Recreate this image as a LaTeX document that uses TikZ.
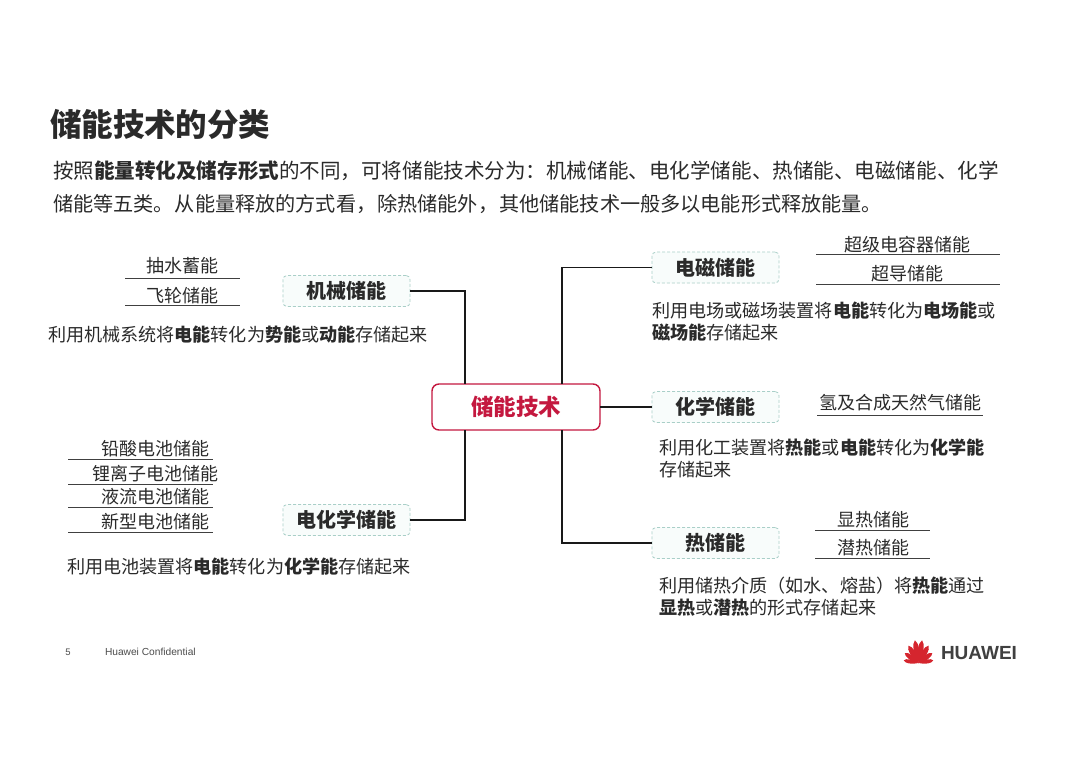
\documentclass[tikz,border=0pt]{standalone}
\usepackage{fontspec}
\setmainfont{Noto Sans CJK SC}
\newfontfamily\latinfont{Liberation Sans}
\usetikzlibrary{calc}
\definecolor{txt}{HTML}{2A2A2A}
\definecolor{redc}{HTML}{C4183F}
\definecolor{tealb}{HTML}{A9CFC8}
\definecolor{tealf}{HTML}{F8FCFB}
\definecolor{petal}{HTML}{D5252E}
\newcommand{\fs}[1]{\fontsize{#1pt}{#1pt}\selectfont}
\newcommand{\bb}[1]{\textbf{#1}}
\tikzset{
  x=1pt,y=-1pt,
  every node/.style={inner sep=0pt,outer sep=0pt,text=txt},
  catbox/.style={draw=tealb,densely dashed,line width=.8pt,fill=tealf,rounded corners=4pt,minimum width=127pt,minimum height=31pt,font=\fs{20}\bfseries},
  centerbox/.style={draw=redc,fill=white,line width=1.4pt,rounded corners=7pt,minimum width=168pt,minimum height=46pt,font=\fs{22.5}\bfseries,text=redc},
  conn/.style={draw=black!90,line width=1.9pt},
  under/.style={draw=black!75,line width=.9pt},
  item/.style={font=\fs{18}},
  para/.style={font=\fs{18.1},align=left,anchor=north west},
}
\begin{document}
\begin{tikzpicture}
\useasboundingbox (0,0) rectangle (1080,764);
\fill[white] (0,0) rectangle (1080,764);
\node[anchor=west,font=\fs{31.5}\bfseries] (title) at (50,124) {储能技术的分类};
\node[anchor=north west,font=\fs{20.56},align=left] (intro) at (53,161) {按照\bb{能量转化及储存形式}的不同，可将储能技术分为：机械储能、电化学储能、热储能、电磁储能、化学\\[12pt]{\fs{20.15}储能等五类。\hspace{1pt}从能量释放的方式看，\hspace{1pt}除热储能外，\hspace{1pt}其他储能技术一般多以电能形式释放能量。}};

\node[centerbox] (center) at (516,407) {储能技术};
\node[catbox] (mech) at (346.5,291) {机械储能};
\node[catbox] (echem) at (346.5,520) {电化学储能};
\node[catbox] (em) at (715.5,267.5) {电磁储能};
\node[catbox] (chem) at (715.5,407) {化学储能};
\node[catbox] (heat) at (715.5,543) {热储能};

\draw[conn] (mech.east) -| ([xshift=-51pt]center.north);
\draw[conn] (echem.east) -| ([xshift=-51pt]center.south);
\draw[conn] (em.west) -| ([xshift=46pt]center.north);
\draw[conn] (center.east) -- (chem.west);
\draw[conn] (heat.west) -| ([xshift=46pt]center.south);

% left top
\node[item] (a1) at (182,266) {抽水蓄能};
\node[item] (a2) at (182,296) {飞轮储能};
\coordinate (a1l) at (125,278); \coordinate (a1r) at (240,278);
\coordinate (a2l) at (125,305); \coordinate (a2r) at (240,305);
\draw[under] (a1l) -- (a1r); \draw[under] (a2l) -- (a2r);
\node[para,anchor=west] (ap) at (48,335) {利用机械系统将\bb{电能}转化为\bb{势能}或\bb{动能}存储起来};

% left bottom
\node[item] (b1) at (155,449) {铅酸电池储能};
\node[item] (b2) at (155,474) {锂离子电池储能};
\node[item] (b3) at (155,497) {液流电池储能};
\node[item] (b4) at (155,522) {新型电池储能};
\coordinate (b1l) at (68,459); \coordinate (b1r) at (213,459);
\coordinate (b2l) at (68,484); \coordinate (b2r) at (213,484);
\coordinate (b3l) at (68,507); \coordinate (b3r) at (213,507);
\coordinate (b4l) at (68,532); \coordinate (b4r) at (213,532);
\draw[under] (b1l) -- (b1r); \draw[under] (b2l) -- (b2r);
\draw[under] (b3l) -- (b3r); \draw[under] (b4l) -- (b4r);
\node[para,anchor=west] (bp) at (67,567) {利用电池装置将\bb{电能}转化为\bb{化学能}存储起来};

% right top
\node[item] (c1) at (907,245) {超级电容器储能};
\node[item] (c2) at (907,274) {超导储能};
\coordinate (c1l) at (816,254); \coordinate (c1r) at (1000,254);
\coordinate (c2l) at (816,284); \coordinate (c2r) at (1000,284);
\draw[under] (c1l) -- (c1r); \draw[under] (c2l) -- (c2r);
\node[para] (cp) at (652,302) {利用电场或磁场装置将\bb{电能}转化为\bb{电场能}或\\[3.5pt]\bb{磁场能}存储起来};

% right middle
\node[item] (d1) at (900,403) {氢及合成天然气储能};
\coordinate (d1l) at (817,415); \coordinate (d1r) at (983,415);
\draw[under] (d1l) -- (d1r);
\node[para] (dp) at (659,439) {利用化工装置将\bb{热能}或\bb{电能}转化为\bb{化学能}\\[3.5pt]存储起来};

% right bottom
\node[item] (e1) at (873,520) {显热储能};
\node[item] (e2) at (873,548) {潜热储能};
\coordinate (e1l) at (815,530); \coordinate (e1r) at (930,530);
\coordinate (e2l) at (815,558); \coordinate (e2r) at (930,558);
\draw[under] (e1l) -- (e1r); \draw[under] (e2l) -- (e2r);
\node[para] (ep) at (659,577) {利用储热介质（如水、熔盐）将\bb{热能}通过\\[3.5pt]\bb{显热}或\bb{潜热}的形式存储起来};

% footer
\node[anchor=center,font=\latinfont\fs{9.5},text=black!70] (pg) at (68,652) {5};
\node[anchor=west,font=\latinfont\fs{10.2},text=black!70] (conf) at (105,652) {Huawei Confidential};
\foreach \a/\l/\w in {-80/15/2.8,-54/17/3.2,-30/20/3.6,-9/23/3.6,9/23/3.6,30/20/3.6,54/17/3.2,80/15/2.8}{
  \fill[petal,rotate around={\a:(918.5,663)}] (918.5,663) .. controls (918.5-\w,663-.5*\l) and (918.5-\w,663-.85*\l) .. (918.5,663-\l) .. controls (918.5+\w,663-.85*\l) and (918.5+\w,663-.5*\l) .. (918.5,663) -- cycle;
}
\node[anchor=west,font=\latinfont\bfseries\fs{19},text=black!75] (logo) at (941,653) {HUAWEI};
\end{tikzpicture}
\end{document}
